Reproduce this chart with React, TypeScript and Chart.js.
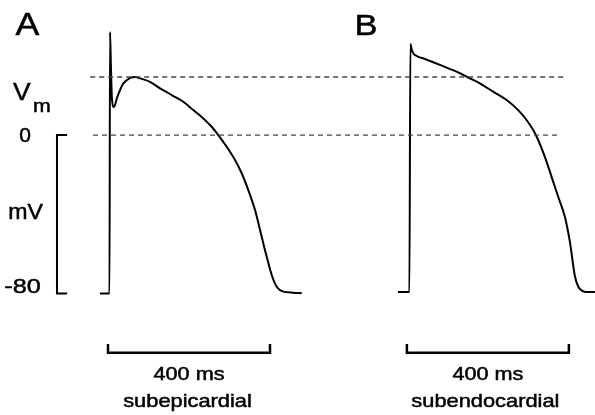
import React, { useEffect, useRef } from "react";
import { Chart, registerables } from "chart.js";

Chart.register(...registerables);

// Panel A – subepicardial action potential (time ms from scale-bar start, membrane potential mV)
const subepiTimeMs = [-20, 3.7, 4.9, 7.4, 9.9, 14.8, 22.2, 29.6, 37, 46.9, 56.8, 66.7, 79, 103.7, 128.4, 157.3, 185.9, 210.6, 235.3, 256, 272.3, 293.1, 313.6, 330.1, 346.4, 363, 379.5, 391.9, 404.2, 416.5, 432.8, 457.5, 478.3];
const subepiVm = [-80, -80, 52, 32.8, 17.7, 14.1, 18.7, 22.7, 25.8, 27.8, 29, 29.3, 28.6, 26.9, 23.6, 20.2, 16.8, 12.6, 8.4, 4.2, 0, -5.9, -12.6, -19.3, -27.8, -37.9, -51.4, -61.5, -70.7, -76.6, -79.1, -79.6, -79.9];

// Panel B – subendocardial action potential
const subendoTimeMs = [-22.2, 6.2, 8.6, 12.3, 17.3, 24.7, 44.4, 81.5, 130.9, 155.6, 180.2, 213.1, 246.2, 274.8, 295.6, 311.9, 324.2, 340.7, 357.3, 373.6, 390.1, 402.5, 414.8, 423, 432, 444.4, 464.2];
const subendoVm = [-79.3, -79.3, 46, 42.9, 40.9, 39.9, 38.4, 35.4, 31.2, 28.6, 26.1, 21.9, 17.7, 12.6, 7.6, 2.5, -2.5, -11, -21.1, -31.2, -41.3, -54, -71.2, -76.5, -78.6, -79.3, -79.3];

const panelBOffsetMs = 738;

// Dashed reference levels (Vm plateau level and 0 mV)
const refLevelsMv = [29.3, 0];
const refStartMs = [-44, -37];
const refEndMs = [1124, 1114];

// Scale bars
const timeBarMs = [0, 400];
const timeBarLevelMv = -110;
const timeBarTickMv = -105.5;
const voltBarMv = [0, -80];
const voltBarTimeMs = -126;
const voltBarTickMs = -101;

const X_MIN = -266.7;
const X_MAX = 1202.5;
const Y_MIN = -141.4;
const Y_MAX = 68.2;

const FONT = '"Liberation Sans", Arial, Helvetica, sans-serif';

function drawText(
  ctx: CanvasRenderingContext2D,
  text: string,
  x: number,
  y: number,
  size: number,
  align: CanvasTextAlign,
  sx = 1.15
) {
  ctx.save();
  ctx.font = `${size}px ${FONT}`;
  ctx.fillStyle = "#000";
  ctx.strokeStyle = "#000";
  ctx.lineWidth = 0.5;
  ctx.translate(x, y);
  ctx.scale(sx, 1);
  ctx.textAlign = align;
  ctx.textBaseline = "alphabetic";
  ctx.fillText(text, 0, 0);
  ctx.strokeText(text, 0, 0);
  ctx.restore();
}

const labelsPlugin = {
  id: "figureLabels",
  afterDatasetsDraw(chart: any) {
    const ctx = chart.ctx as CanvasRenderingContext2D;
    const xs = chart.scales.x;
    const ys = chart.scales.y;
    drawText(ctx, "A", 27.5, 35, 31, "center");
    drawText(ctx, "B", 366, 35, 30, "center");
    drawText(ctx, "V", 13, 100, 24, "left", 1.1);
    drawText(ctx, "m", 33, 112, 19, "left", 1.12);
    drawText(ctx, "0", 25, ys.getPixelForValue(0) + 7, 20, "center", 1.05);
    drawText(ctx, "mV", 25.5, 219, 22, "center", 1.05);
    drawText(ctx, "-80", 22.5, ys.getPixelForValue(-80), 21, "center", 1.2);
    const aMid = xs.getPixelForValue((timeBarMs[0] + timeBarMs[1]) / 2);
    const bMid = xs.getPixelForValue(panelBOffsetMs + (timeBarMs[0] + timeBarMs[1]) / 2);
    drawText(ctx, "400 ms", aMid, 380, 18.5, "center", 1.17);
    drawText(ctx, "subepicardial", aMid - 1.5, 407, 18.5, "center", 1.18);
    drawText(ctx, "400 ms", bMid, 380, 18.5, "center", 1.17);
    drawText(ctx, "subendocardial", bMid - 2.5, 407, 18.5, "center", 1.18);
  },
};

export default function App() {
  const canvasRef = useRef<HTMLCanvasElement | null>(null);

  useEffect(() => {
    if (!canvasRef.current) return;

    const traceA = subepiTimeMs.map((t, i) => ({ x: t, y: subepiVm[i] }));
    const traceB = subendoTimeMs.map((t, i) => ({ x: t + panelBOffsetMs, y: subendoVm[i] }));

    const refLines = refLevelsMv.map((v, i) => ({
      data: [
        { x: refStartMs[i], y: v },
        { x: refEndMs[i], y: v },
      ],
      borderColor: "#444",
      borderWidth: 1.3,
      borderDash: [5, 4],
      tension: 0,
    }));

    const timeBar = (offset: number) => ({
      data: [
        { x: offset + timeBarMs[0], y: timeBarTickMv },
        { x: offset + timeBarMs[0], y: timeBarLevelMv },
        { x: offset + timeBarMs[1], y: timeBarLevelMv },
        { x: offset + timeBarMs[1], y: timeBarTickMv },
      ],
      borderColor: "#000",
      borderWidth: 2.5,
      tension: 0,
    });

    const voltBar = {
      data: [
        { x: voltBarTickMs, y: voltBarMv[0] },
        { x: voltBarTimeMs, y: voltBarMv[0] },
        { x: voltBarTimeMs, y: voltBarMv[1] },
        { x: voltBarTickMs, y: voltBarMv[1] },
      ],
      borderColor: "#000",
      borderWidth: 2,
      tension: 0,
    };

    const chart = new Chart(canvasRef.current, {
      type: "line",
      data: {
        datasets: [
          ...refLines,
          {
            data: traceA,
            borderColor: "#000",
            borderWidth: 2,
            cubicInterpolationMode: "monotone",
          },
          {
            data: traceB,
            borderColor: "#000",
            borderWidth: 2,
            cubicInterpolationMode: "monotone",
          },
          timeBar(0),
          timeBar(panelBOffsetMs),
          voltBar,
        ] as any,
      },
      options: {
        animation: false,
        responsive: false,
        devicePixelRatio: 1,
        layout: { padding: 0 },
        elements: { point: { radius: 0, hoverRadius: 0 }, line: { borderCapStyle: "butt" } },
        plugins: { legend: { display: false }, tooltip: { enabled: false } },
        events: [],
        scales: {
          x: { type: "linear", min: X_MIN, max: X_MAX, display: false },
          y: { type: "linear", min: Y_MIN, max: Y_MAX, display: false },
        },
      } as any,
      plugins: [labelsPlugin],
    });

    return () => chart.destroy();
  }, []);

  return (
    <div style={{ position: "absolute", left: 0, top: 0, width: 595, height: 415, background: "#fff" }}>
      <canvas ref={canvasRef} width={595} height={415} style={{ display: "block", width: 595, height: 415 }} />
    </div>
  );
}
